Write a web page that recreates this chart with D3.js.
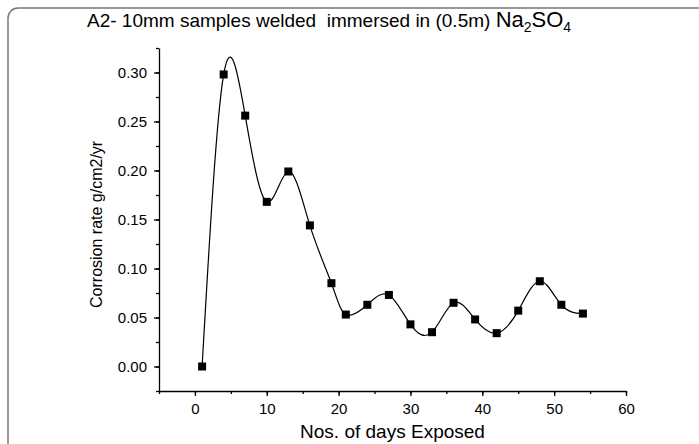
<!DOCTYPE html>
<html>
<head>
<meta charset="utf-8">
<script src="https://cdn.jsdelivr.net/npm/d3@7"></script>
<style>
  body { margin: 0; background: #fff; }
  text { font-family: "Liberation Sans", Arial, sans-serif; }
</style>
</head>
<body>
<div id="chart"></div>
<script>
// days exposed vs corrosion rate
const days = [1, 4, 7, 10, 13, 16, 19, 21, 24, 27, 30, 33, 36, 39, 42, 45, 48, 51, 54];
const rate = [0.000, 0.298, 0.256, 0.168, 0.199, 0.144, 0.085, 0.053, 0.063, 0.073,
              0.043, 0.035, 0.065, 0.048, 0.034, 0.057, 0.087, 0.063, 0.054];
const xTicks = [0, 10, 20, 30, 40, 50, 60];
const yTicks = [0.00, 0.05, 0.10, 0.15, 0.20, 0.25, 0.30];

const W = 699, H = 444;
const margin = { top: 48, right: 73, bottom: 53, left: 159 };

const svg = d3.select("#chart").append("svg")
  .attr("width", W).attr("height", H);

// frame round the figure
svg.append("rect")
  .attr("x", 8).attr("y", 8)
  .attr("width", W + 20).attr("height", H + 20)
  .attr("rx", 10)
  .attr("fill", "none")
  .attr("stroke", "#777")
  .attr("stroke-width", 1.5);

const x = d3.scaleLinear().domain([-5, 60]).range([margin.left, W - margin.right]);
const y = d3.scaleLinear().domain([-0.025, 0.325]).range([H - margin.bottom, margin.top]);

// minor ticks first, then major with labels
svg.append("g")
  .attr("transform", "translate(0," + (H - margin.bottom) + ")")
  .call(d3.axisBottom(x).tickValues(d3.range(-5, 61, 5)).tickSize(3).tickFormat(""))
  .call(g => g.select(".domain").remove());
const xAxis = svg.append("g")
  .attr("transform", "translate(0," + (H - margin.bottom) + ")")
  .call(d3.axisBottom(x).tickValues(xTicks).tickSize(5).tickSizeOuter(0).tickFormat(d3.format("d")));
xAxis.selectAll("text").style("font-size", "15px").attr("dy", "1em");

svg.append("g")
  .attr("transform", "translate(" + margin.left + ",0)")
  .call(d3.axisLeft(y).tickValues(d3.range(-0.025, 0.326, 0.025)).tickSize(3).tickFormat(""))
  .call(g => g.select(".domain").remove());
const yAxis = svg.append("g")
  .attr("transform", "translate(" + margin.left + ",0)")
  .call(d3.axisLeft(y).tickValues(yTicks).tickSize(5).tickSizeOuter(0).tickFormat(d3.format(".2f")));
yAxis.selectAll("text").style("font-size", "15px").attr("x", -12);

svg.selectAll(".domain, .tick line").attr("stroke", "#000").attr("stroke-width", 1.3);

// spline through the points
const pts = days.map((d, i) => [d, rate[i]]);
svg.append("path")
  .datum(pts)
  .attr("fill", "none")
  .attr("stroke", "#000")
  .attr("stroke-width", 1.2)
  .attr("d", d3.line().x(d => x(d[0])).y(d => y(d[1])).curve(d3.curveNatural));

svg.selectAll("rect.pt")
  .data(pts)
  .enter()
  .append("rect")
  .attr("class", "pt")
  .attr("x", d => x(d[0]) - 4)
  .attr("y", d => y(d[1]) - 4)
  .attr("width", 8).attr("height", 8)
  .attr("fill", "#000");

// titles
const title = svg.append("text")
  .attr("x", 87).attr("y", 27)
  .style("font-size", "19px");
title.append("tspan").text("A2- 10mm samples welded\u00a0 immersed in (0.5m) ");
title.append("tspan").style("font-size", "22px").text("Na");
title.append("tspan").style("font-size", "14px").attr("dy", 5).text("2");
title.append("tspan").style("font-size", "22px").attr("dy", -5).text("SO");
title.append("tspan").style("font-size", "14px").attr("dy", 5).text("4");

svg.append("text")
  .attr("transform", "translate(102," + y(0.145) + ")rotate(-90)")
  .attr("text-anchor", "middle")
  .style("font-size", "16px")
  .text("Corrosion rate g/cm2/yr");

svg.append("text")
  .attr("x", x(27.5)).attr("y", 438)
  .attr("text-anchor", "middle")
  .style("font-size", "19px")
  .text("Nos. of days Exposed");
</script>
</body>
</html>
